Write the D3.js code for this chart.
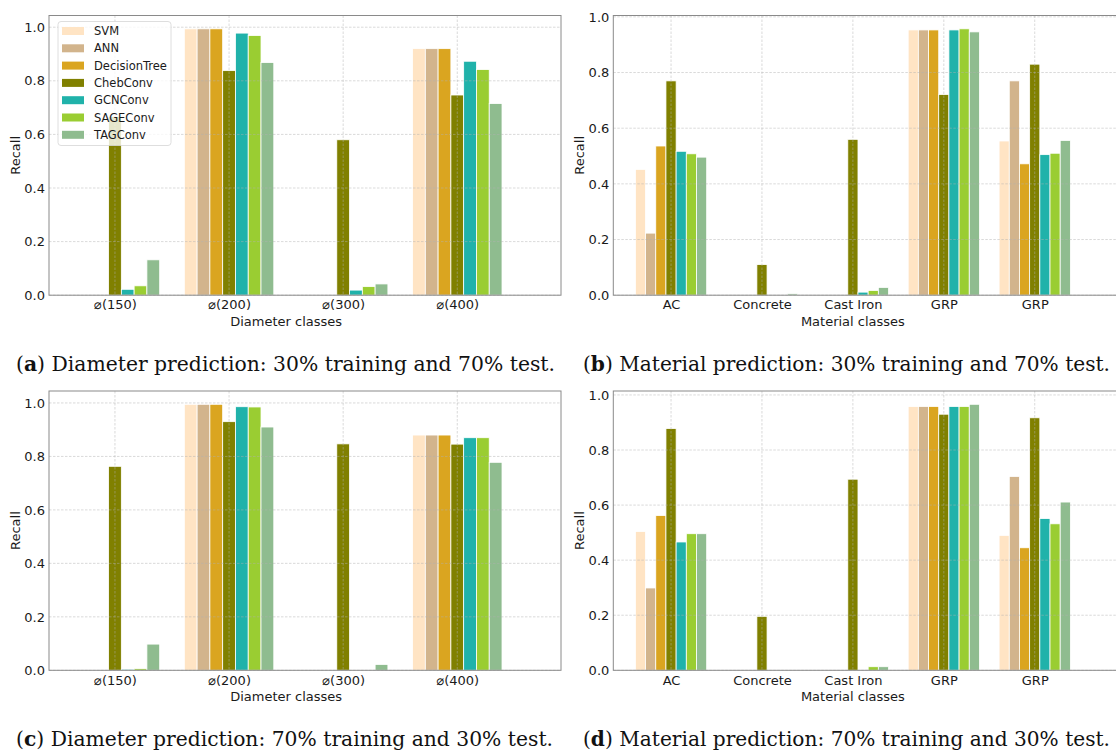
<html>
  <head>
    <title>Recall per class</title>
    <style>
      body { margin: 0; background: #fff; }
      text { font-family: "DejaVu Sans", sans-serif; }
    </style>
  </head>
  <body>
    <script src="https://d3js.org/d3.v7.min.js"></script>
    <script>
      // models in legend order
      const series = ["SVM", "ANN", "DecisionTree", "ChebConv", "GCNConv", "SAGEConv", "TAGConv"];
      const diameterClasses = ["\u2300(150)", "\u2300(200)", "\u2300(300)", "\u2300(400)"];
      const materialClasses = ["AC", "Concrete", "Cast Iron", "GRP", "GRP"];
      const yTicks = [0, 0.2, 0.4, 0.6, 0.8, 1.0];

      // recall, one row per model, one column per class
      const recallDiameter30 = [
        [0, 0.994, 0, 0.920],
        [0, 0.994, 0, 0.920],
        [0, 0.994, 0, 0.920],
        [0.667, 0.838, 0.580, 0.747],
        [0.022, 0.978, 0.019, 0.873],
        [0.035, 0.969, 0.032, 0.842],
        [0.132, 0.868, 0.042, 0.715]
      ];
      const recallMaterial30 = [
        [0.452, 0, 0, 0.953, 0.554],
        [0.223, 0, 0, 0.953, 0.770],
        [0.536, 0, 0, 0.953, 0.472],
        [0.770, 0.110, 0.560, 0.721, 0.830],
        [0.517, 0, 0.011, 0.953, 0.505],
        [0.508, 0, 0.017, 0.957, 0.510],
        [0.496, 0.005, 0.028, 0.946, 0.556]
      ];
      const recallDiameter70 = [
        [0, 0.995, 0, 0.880],
        [0, 0.995, 0, 0.880],
        [0, 0.995, 0, 0.880],
        [0.763, 0.930, 0.847, 0.846],
        [0.004, 0.986, 0, 0.870],
        [0.006, 0.985, 0, 0.870],
        [0.098, 0.910, 0.022, 0.778]
      ];
      const recallMaterial70 = [
        [0.504, 0, 0, 0.958, 0.490],
        [0.299, 0, 0, 0.958, 0.704],
        [0.562, 0, 0, 0.958, 0.445],
        [0.878, 0.196, 0.694, 0.930, 0.917],
        [0.466, 0, 0, 0.958, 0.551],
        [0.496, 0, 0.013, 0.958, 0.532],
        [0.496, 0, 0.013, 0.966, 0.611]
      ];

      const colors = ["#ffe4c4", "#d2b48c", "#daa520", "#808000", "#20b2aa", "#9acd32", "#8fbc8f"];
      const barWidth = 0.112;

      const svg = d3.select("body").append("svg")
          .attr("width", 1116)
          .attr("height", 751);

      const panels = [
        { data: recallDiameter30, cats: diameterClasses, xlabel: "Diameter classes",
          box: [49, 561, 15.5, 295.2], dom: [-0.578, 3.909], legend: true,
          cap: ["a", ") Diameter prediction: 30% training and 70% test."], capX: 16, capY: 371, capW: 539 },
        { data: recallMaterial30, cats: materialClasses, xlabel: "Material classes",
          box: [613.3, 1125.3, 15.5, 295.2], dom: [-0.635, 4.996], legend: false,
          cap: ["b", ") Material prediction: 30% training and 70% test."], capX: 583, capY: 371, capW: 527 },
        { data: recallDiameter70, cats: diameterClasses, xlabel: "Diameter classes",
          box: [49, 561, 391, 670.3], dom: [-0.578, 3.909], legend: false,
          cap: ["c", ") Diameter prediction: 70% training and 30% test."], capX: 16, capY: 746, capW: 537 },
        { data: recallMaterial70, cats: materialClasses, xlabel: "Material classes",
          box: [613.3, 1125.3, 391, 670.3], dom: [-0.635, 4.996], legend: false,
          cap: ["d", ") Material prediction: 70% training and 30% test."], capX: 583, capY: 746, capW: 527 }
      ];

      panels.forEach(drawPanel);

      function drawPanel(p) {
        const [left, right, top, bottom] = p.box;
        const g = svg.append("g");

        const x = d3.scaleLinear().domain(p.dom).range([left, right]);
        const yMax = 1.05 * d3.max(p.data, row => d3.max(row));
        const y = d3.scaleLinear().domain([0, yMax]).range([bottom, top]);

        // flatten to one record per bar
        const bars = [];
        p.data.forEach((row, s) => row.forEach((v, c) => {
          if (v > 0) bars.push({ s: s, c: c, v: v });
        }));

        g.append("g")
          .selectAll("rect")
          .data(bars)
          .join("rect")
            .attr("x", d => x(d.c + (d.s - 3) * barWidth - barWidth / 2))
            .attr("width", x(barWidth) - x(0))
            .attr("y", d => y(d.v))
            .attr("height", d => y(0) - y(d.v))
            .attr("fill", d => colors[d.s])
            .attr("stroke", "#fff")
            .attr("stroke-width", 0.8);

        // grid lines sit on top of the bars, faint and dashed
        const grid = g.append("g")
            .attr("stroke", "#b0b0b0")
            .attr("stroke-opacity", 0.6)
            .attr("stroke-width", 0.8)
            .attr("stroke-dasharray", "2.5,1.5");
        grid.selectAll(".gy")
          .data(yTicks)
          .join("line")
            .attr("x1", left).attr("x2", right)
            .attr("y1", d => y(d)).attr("y2", d => y(d));
        grid.selectAll(".gx")
          .data(p.cats.map((c, i) => i))
          .join("line")
            .attr("x1", d => x(d)).attr("x2", d => x(d))
            .attr("y1", top).attr("y2", bottom);

        // axes without tick marks
        const yAxis = d3.axisLeft(y).tickValues(yTicks).tickFormat(d3.format(".1f")).tickSize(0).tickPadding(4);
        const xAxis = d3.axisBottom(x).tickValues(p.cats.map((c, i) => i))
            .tickFormat(i => p.cats[i]).tickSize(0).tickPadding(5);

        const ya = g.append("g").attr("transform", `translate(${left},0)`).call(yAxis);
        const xa = g.append("g").attr("transform", `translate(0,${bottom})`).call(xAxis);
        [ya, xa].forEach(a => {
          a.select(".domain").remove();
          a.selectAll("text")
            .attr("fill", "#1a1a1a")
            .attr("font-size", 13)
            .attr("font-family", "DejaVu Sans, sans-serif");
        });

        g.append("rect")
          .attr("x", left).attr("y", top)
          .attr("width", right - left).attr("height", bottom - top)
          .attr("fill", "none")
          .attr("stroke", "#8a8a8a")
          .attr("stroke-width", 1);

        g.append("text")
          .attr("x", x((p.cats.length - 1) / 2))
          .attr("y", bottom + 30.5)
          .attr("text-anchor", "middle")
          .attr("font-size", 13)
          .attr("fill", "#1a1a1a")
          .text(p.xlabel);

        g.append("text")
          .attr("transform", `translate(${left - 29},${(top + bottom) / 2}) rotate(-90)`)
          .attr("text-anchor", "middle")
          .attr("font-size", 13)
          .attr("fill", "#1a1a1a")
          .text("Recall");

        if (p.legend) drawLegend(g, left + 9, top + 6);

        // caption: a slightly narrow serif, stretched a little in height
        const cap = svg.append("text")
          .attr("transform", `translate(${p.capX},${p.capY}) scale(1,1.1)`)
          .attr("font-size", 18.4)
          .attr("fill", "#111")
          .attr("textLength", p.capW)
          .attr("lengthAdjust", "spacingAndGlyphs")
          .style("font-family", "'DejaVu Serif', serif");
        cap.append("tspan").text("(");
        cap.append("tspan").attr("font-weight", "bold").text(p.cap[0]);
        cap.append("tspan").text(p.cap[1]);
      }

      function drawLegend(g, lx, ly) {
        const lg = g.append("g").attr("transform", `translate(${lx},${ly})`);
        lg.append("rect")
          .attr("width", 113).attr("height", 124)
          .attr("rx", 3)
          .attr("fill", "#fff")
          .attr("fill-opacity", 0.8)
          .attr("stroke", "#d6d6d6")
          .attr("stroke-width", 0.8);
        const item = lg.selectAll("g.item")
          .data(series)
          .join("g")
            .attr("transform", (d, i) => `translate(4,${9.5 + i * 17.3})`);
        item.append("rect")
          .attr("width", 22).attr("height", 8)
          .attr("y", -4)
          .attr("fill", (d, i) => colors[i]);
        item.append("text")
          .attr("x", 32)
          .attr("y", 4)
          .attr("font-size", 11.5)
          .attr("fill", "#1a1a1a")
          .text(d => d);
      }
    </script>
  </body>
</html>
